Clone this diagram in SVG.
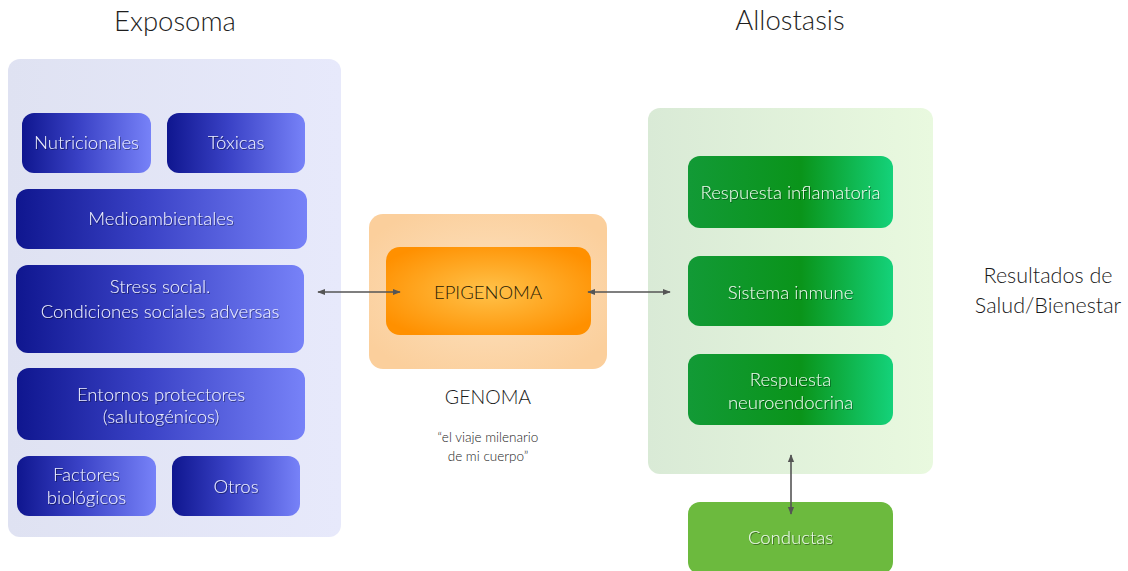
<svg xmlns="http://www.w3.org/2000/svg" width="1128" height="571" viewBox="0 0 1128 571">
<style>
text{font-family:Lato,"Open Sans","Liberation Sans",sans-serif;text-anchor:middle;font-weight:300}
.title{font-size:27.5px;fill:#1e1e1e}
.bt{font-size:18.5px;fill:#eef0ff;filter:url(#sh)}
.gt{font-size:18.5px;fill:#eefaee;filter:url(#sh)}
.dark{fill:#1a1a1a}
.conn{stroke:#555;stroke-width:1.6;fill:none;marker-start:url(#ah);marker-end:url(#ah)}
</style>
<defs>
<linearGradient id="lp" x1="0" y1="0" x2="1" y2="0"><stop offset="0" stop-color="#dfe2f2"/><stop offset="1" stop-color="#e7e9fb"/></linearGradient>
<linearGradient id="gp" x1="0" y1="0" x2="1" y2="0"><stop offset="0" stop-color="#d9ead6"/><stop offset="1" stop-color="#e9f9df"/></linearGradient>
<linearGradient id="bb" x1="0" y1="0" x2="1" y2="0"><stop offset="0" stop-color="#0f168f"/><stop offset="0.45" stop-color="#3a42c6"/><stop offset="1" stop-color="#7782f8"/></linearGradient>
<linearGradient id="gb" x1="0" y1="0" x2="1" y2="0"><stop offset="0" stop-color="#129a36"/><stop offset="0.55" stop-color="#0a941a"/><stop offset="1" stop-color="#14d27a"/></linearGradient>
<radialGradient id="ob" cx="0.5" cy="0.5" r="0.6"><stop offset="0" stop-color="#fde2c0"/><stop offset="1" stop-color="#fbcf9c"/></radialGradient>
<radialGradient id="ib" cx="0.5" cy="0.5" r="0.6"><stop offset="0" stop-color="#ffc24a"/><stop offset="1" stop-color="#ff9000"/></radialGradient>
<filter id="sh" x="-10%" y="-30%" width="120%" height="160%"><feDropShadow dx="0.8" dy="1" stdDeviation="0.6" flood-color="#000" flood-opacity="0.45"/></filter>
<marker id="ah" viewBox="0 0 10 10" refX="9" refY="5" markerWidth="8" markerHeight="8" orient="auto-start-reverse" markerUnits="userSpaceOnUse"><path d="M0,1 L10,5 L0,9 z" fill="#555"/></marker>
</defs>
<rect width="1128" height="571" fill="#fff"/>

<g id="exposoma">
<text class="title" x="175" y="31">Exposoma</text>
<rect x="8" y="59" width="333" height="478" rx="12" fill="url(#lp)"/>
</g>
<g id="nutricionales"><rect x="22" y="113" width="129" height="60" rx="12" fill="url(#bb)"/><text class="bt" x="86.5" y="149">Nutricionales</text></g>
<g id="toxicas"><rect x="167" y="113" width="138" height="60" rx="12" fill="url(#bb)"/><text class="bt" x="236" y="149">Tóxicas</text></g>
<g id="medioambientales"><rect x="16" y="189" width="291" height="60" rx="12" fill="url(#bb)"/><text class="bt" x="161" y="225">Medioambientales</text></g>
<g id="stress"><rect x="16" y="265" width="288" height="88" rx="12" fill="url(#bb)"/><text class="bt" x="160" y="293">Stress social.</text><text class="bt" x="160" y="318">Condiciones sociales adversas</text></g>
<g id="entornos"><rect x="17" y="368" width="288" height="72" rx="12" fill="url(#bb)"/><text class="bt" x="161" y="401">Entornos protectores</text><text class="bt" x="161" y="423">(salutogénicos)</text></g>
<g id="factores"><rect x="17" y="456" width="139" height="60" rx="12" fill="url(#bb)"/><text class="bt" x="86.5" y="481">Factores</text><text class="bt" x="86.5" y="504">biológicos</text></g>
<g id="otros"><rect x="172" y="456" width="128" height="60" rx="12" fill="url(#bb)"/><text class="bt" x="236" y="493">Otros</text></g>

<g id="genoma">
<rect x="369" y="214" width="238" height="155" rx="14" fill="url(#ob)"/>
<text class="dark" x="488" y="404" font-size="19.5">GENOMA</text>
<text class="dark" x="488" y="442" font-size="13.5">“el viaje milenario</text>
<text class="dark" x="488" y="461" font-size="13.5">de mi cuerpo”</text>
</g>
<g id="epigenoma"><rect x="386" y="247" width="205" height="88" rx="14" fill="url(#ib)"/><text x="488" y="299" font-size="18.5" fill="#2a1c05">EPIGENOMA</text></g>

<g id="allostasis">
<text class="title" x="790" y="30">Allostasis</text>
<rect x="648" y="108" width="285" height="366" rx="12" fill="url(#gp)"/>
</g>
<g id="inflamatoria"><rect x="688" y="156" width="205" height="72" rx="12" fill="url(#gb)"/><text class="gt" x="790.5" y="199">Respuesta inflamatoria</text></g>
<g id="inmune"><rect x="688" y="256" width="205" height="70" rx="12" fill="url(#gb)"/><text class="gt" x="790.5" y="299">Sistema inmune</text></g>
<g id="neuroendocrina"><rect x="688" y="354" width="205" height="71" rx="12" fill="url(#gb)"/><text class="gt" x="790.5" y="386">Respuesta</text><text class="gt" x="790.5" y="409">neuroendocrina</text></g>
<g id="conductas"><rect x="688" y="502" width="205" height="72" rx="12" fill="#6cba3e"/><text class="gt" x="790.5" y="544">Conductas</text></g>

<g id="resultados">
<text class="dark" x="1048" y="283" font-size="21.5">Resultados de</text>
<text class="dark" x="1048" y="313" font-size="21.5">Salud/Bienestar</text>
</g>

<g id="connectors">
<line class="conn" x1="318" y1="292" x2="400" y2="292"/>
<line class="conn" x1="588" y1="292" x2="670" y2="292"/>
<line class="conn" x1="791" y1="455" x2="791" y2="514"/>
</g>
</svg>
